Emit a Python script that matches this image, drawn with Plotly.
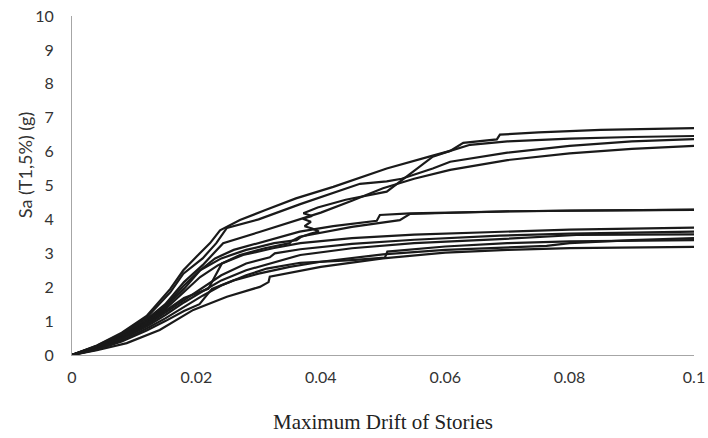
import plotly.graph_objects as go

# ---- data ----
x_ticks = [0, 0.02, 0.04, 0.06, 0.08, 0.1]
x_tick_text = ["0", "0.02", "0.04", "0.06", "0.08", "0.1"]
y_ticks = list(range(0, 11))

drift_c1 = [0, 0.004, 0.008, 0.012, 0.0158, 0.0179, 0.020, 0.0222, 0.0238, 0.027, 0.031, 0.036, 0.042, 0.0506, 0.058, 0.0608, 0.0629, 0.0683, 0.0688, 0.075, 0.085, 0.1]
sa_c1 = [0, 0.28, 0.66, 1.15, 1.95, 2.5, 2.9, 3.3, 3.68, 3.98, 4.27, 4.62, 4.96, 5.5, 5.88, 6.02, 6.26, 6.36, 6.5, 6.57, 6.64, 6.69]

drift_c2 = [0, 0.004, 0.008, 0.012, 0.0158, 0.0179, 0.021, 0.0232, 0.0249, 0.03, 0.0367, 0.0463, 0.0506, 0.053, 0.058, 0.0608, 0.07, 0.08, 0.09, 0.1]
sa_c2 = [0, 0.27, 0.63, 1.1, 1.85, 2.4, 2.85, 3.3, 3.75, 4.0, 4.45, 5.05, 5.12, 5.2, 5.5, 5.7, 5.97, 6.17, 6.3, 6.37]

drift_c3 = [0, 0.004, 0.008, 0.012, 0.015, 0.018, 0.0206, 0.024, 0.028, 0.0325, 0.0361, 0.0369, 0.0384, 0.0397, 0.0386, 0.0374, 0.0384, 0.0371, 0.0386, 0.0372, 0.0395, 0.044, 0.0506, 0.0538, 0.058, 0.0608, 0.064, 0.07, 0.08, 0.09, 0.1]
sa_c3 = [0, 0.25, 0.58, 1.0, 1.45, 2.05, 2.5, 2.85, 3.1, 3.3, 3.39, 3.49, 3.58, 3.64, 3.73, 3.8, 3.93, 4.02, 4.1, 4.18, 4.35, 4.58, 4.82, 5.26, 5.85, 6.02, 6.2, 6.3, 6.38, 6.43, 6.46]

drift_c4 = [0, 0.004, 0.008, 0.012, 0.015, 0.018, 0.021, 0.0243, 0.03, 0.035, 0.04, 0.045, 0.05, 0.055, 0.0608, 0.07, 0.08, 0.09, 0.1]
sa_c4 = [0, 0.26, 0.6, 1.05, 1.5, 2.15, 2.65, 3.3, 3.62, 3.9, 4.2, 4.55, 4.92, 5.2, 5.46, 5.75, 5.95, 6.08, 6.17]

drift_c5 = [0, 0.004, 0.008, 0.012, 0.015, 0.018, 0.0206, 0.023, 0.026, 0.03, 0.0366, 0.042, 0.049, 0.0495, 0.0543, 0.0688, 0.08, 0.1]
sa_c5 = [0, 0.24, 0.56, 0.98, 1.4, 1.95, 2.5, 2.85, 3.1, 3.3, 3.64, 3.8, 3.96, 4.13, 4.18, 4.23, 4.26, 4.28]

drift_c6 = [0, 0.004, 0.008, 0.012, 0.015, 0.018, 0.0206, 0.0235, 0.027, 0.031, 0.035, 0.0353, 0.0366, 0.045, 0.0527, 0.0543, 0.07, 0.1]
sa_c6 = [0, 0.23, 0.54, 0.95, 1.35, 1.85, 2.3, 2.65, 2.95, 3.15, 3.3, 3.36, 3.49, 3.78, 3.98, 4.16, 4.24, 4.29]

drift_c7 = [0, 0.004, 0.008, 0.012, 0.015, 0.018, 0.0219, 0.0241, 0.0275, 0.0323, 0.0367, 0.045, 0.055, 0.0688, 0.08, 0.09, 0.1]
sa_c7 = [0, 0.22, 0.52, 0.92, 1.3, 1.68, 1.95, 2.7, 2.95, 3.15, 3.3, 3.45, 3.55, 3.64, 3.7, 3.73, 3.76]

drift_c8 = [0, 0.004, 0.008, 0.012, 0.015, 0.018, 0.021, 0.024, 0.028, 0.0318, 0.0326, 0.0367, 0.045, 0.055, 0.0688, 0.08, 0.09, 0.1]
sa_c8 = [0, 0.2, 0.5, 0.88, 1.25, 1.62, 2.0, 2.35, 2.7, 2.88, 3.0, 3.12, 3.28, 3.4, 3.52, 3.58, 3.61, 3.64]

drift_c9 = [0, 0.004, 0.008, 0.012, 0.015, 0.018, 0.021, 0.024, 0.028, 0.0367, 0.045, 0.055, 0.0688, 0.0811, 0.09, 0.1]
sa_c9 = [0, 0.19, 0.47, 0.84, 1.18, 1.55, 1.88, 2.2, 2.5, 2.95, 3.15, 3.3, 3.42, 3.54, 3.55, 3.56]

drift_c10 = [0, 0.004, 0.008, 0.012, 0.015, 0.018, 0.021, 0.024, 0.028, 0.0313, 0.0367, 0.045, 0.0503, 0.0507, 0.06, 0.07, 0.08, 0.1]
sa_c10 = [0, 0.17, 0.43, 0.78, 1.08, 1.42, 1.75, 2.05, 2.35, 2.55, 2.72, 2.8, 2.87, 3.05, 3.2, 3.3, 3.35, 3.39]

drift_c11 = [0, 0.004, 0.0088, 0.0141, 0.0195, 0.0249, 0.0302, 0.0316, 0.0318, 0.035, 0.04, 0.05, 0.06, 0.07, 0.08, 0.1]
sa_c11 = [0, 0.14, 0.35, 0.74, 1.33, 1.72, 2.01, 2.15, 2.31, 2.42, 2.6, 2.85, 3.02, 3.1, 3.15, 3.19]

drift_c12 = [0, 0.004, 0.008, 0.012, 0.015, 0.018, 0.0205, 0.0225, 0.026, 0.03, 0.035, 0.04, 0.05, 0.06, 0.0763, 0.08, 0.09, 0.1]
sa_c12 = [0, 0.16, 0.4, 0.72, 1.0, 1.3, 1.5, 1.95, 2.2, 2.4, 2.6, 2.75, 2.97, 3.1, 3.22, 3.3, 3.39, 3.45]

curves = [
    (drift_c1, sa_c1), (drift_c2, sa_c2), (drift_c3, sa_c3), (drift_c4, sa_c4),
    (drift_c5, sa_c5), (drift_c6, sa_c6), (drift_c7, sa_c7), (drift_c8, sa_c8),
    (drift_c9, sa_c9), (drift_c10, sa_c10), (drift_c11, sa_c11), (drift_c12, sa_c12),
]

fig = go.Figure()
for xs, ys in curves:
    fig.add_trace(go.Scatter(
        x=xs, y=ys, mode="lines",
        line=dict(color="#1a1a1a", width=2.2),
        showlegend=False, hoverinfo="skip",
    ))

tick_font = dict(family="Lato, 'Open Sans', sans-serif", size=16, color="#333333")

fig.update_layout(
    width=708, height=438,
    margin=dict(l=72, r=14, t=16, b=83),
    paper_bgcolor="white", plot_bgcolor="white",
    showlegend=False,
    xaxis=dict(
        range=[0, 0.1], tickvals=x_ticks, ticktext=x_tick_text,
        showgrid=False, zeroline=False, showline=True,
        linecolor="#a6a6a6", linewidth=1, ticks="",
        tickfont=tick_font, ticklabelstandoff=8, automargin=False,
        ticklabeloverflow="allow",
    ),
    yaxis=dict(
        range=[0, 10], tickvals=y_ticks,
        showgrid=False, zeroline=False, showline=True,
        linecolor="#a6a6a6", linewidth=1, ticks="",
        tickfont=tick_font, ticklabelstandoff=14, automargin=False,
        ticklabeloverflow="allow",
    ),
    annotations=[
        dict(text="Maximum Drift of Stories", xref="paper", yref="paper",
             x=0.5, y=-0.198, xanchor="center", yanchor="middle", showarrow=False,
             font=dict(family="'Liberation Serif', 'Times New Roman', serif", size=21, color="#222222")),
        dict(text="Sa (T1,5%) (g)", xref="paper", yref="paper",
             x=-0.0756, y=0.56, xanchor="center", yanchor="middle", showarrow=False,
             textangle=-90,
             font=dict(family="Lato, 'Open Sans', sans-serif", size=18, color="#333333")),
    ],
)

# remove the page's default 8px body margin so the figure sits at the window origin
fig.write_html("out.html", config={"displayModeBar": False},
               post_script="document.body.style.margin='0';")
